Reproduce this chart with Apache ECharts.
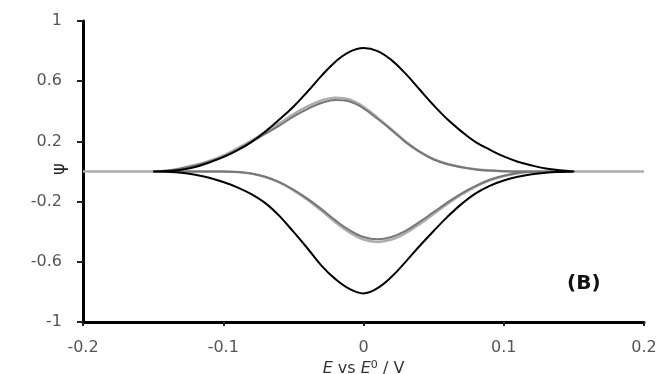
<!DOCTYPE html>
<html>
<head>
<meta charset="utf-8">
<script src="https://cdn.jsdelivr.net/npm/echarts@6/dist/echarts.min.js"></script>
<style>html,body{margin:0;padding:0;background:#fff}#c{width:664px;height:374px}</style>
</head>
<body>
<div id="c"></div>
<script>
// Potential grid (V) for the scans
const E_fwd = [-0.15,-0.14,-0.13,-0.12,-0.11,-0.10,-0.09,-0.08,-0.07,-0.06,-0.05,-0.04,-0.03,-0.02,-0.01,0,0.01,0.02,0.03,0.04,0.05,0.06,0.07,0.08,0.09,0.10,0.11,0.12,0.13,0.14,0.15];
const E_rev = E_fwd.slice().reverse();

// Black voltammogram
const black_fwd = [0,0.003,0.012,0.03,0.06,0.095,0.14,0.195,0.265,0.345,0.43,0.53,0.635,0.73,0.795,0.82,0.80,0.74,0.65,0.545,0.44,0.345,0.265,0.195,0.145,0.10,0.065,0.04,0.02,0.008,0];
const black_rev = [0,-0.003,-0.008,-0.018,-0.035,-0.06,-0.095,-0.145,-0.215,-0.30,-0.395,-0.495,-0.60,-0.70,-0.775,-0.81,-0.78,-0.715,-0.625,-0.51,-0.40,-0.295,-0.21,-0.15,-0.105,-0.07,-0.042,-0.022,-0.008,-0.002,0];

// Dark grey voltammogram
const dgrey_fwd = [0,0.005,0.02,0.04,0.065,0.10,0.145,0.195,0.25,0.305,0.365,0.415,0.455,0.475,0.465,0.42,0.35,0.275,0.195,0.13,0.08,0.048,0.028,0.014,0.006,0.002,0,0,0,0,0];
const dgrey_rev = [0,0,0,-0.002,-0.01,-0.028,-0.055,-0.095,-0.145,-0.205,-0.27,-0.335,-0.395,-0.435,-0.45,-0.435,-0.39,-0.325,-0.25,-0.18,-0.12,-0.07,-0.035,-0.013,-0.003,0,0,0,0,0,0];

// Light grey voltammogram (full range -0.2 .. 0.2)
const E_lfwd = [-0.20,-0.19,-0.18,-0.17,-0.16,-0.15,-0.14,-0.13,-0.12,-0.11,-0.10,-0.09,-0.08,-0.07,-0.06,-0.05,-0.04,-0.03,-0.02,-0.01,0,0.01,0.02,0.03,0.04,0.05,0.06,0.07,0.08,0.09,0.10,0.11,0.12,0.13,0.14,0.15,0.16,0.17,0.18,0.19,0.20];
const E_lrev = E_lfwd.slice().reverse();
const lgrey_fwd = [0,0,0,0,0,0,0.006,0.022,0.043,0.07,0.106,0.153,0.205,0.262,0.32,0.38,0.432,0.472,0.49,0.478,0.43,0.358,0.28,0.2,0.133,0.082,0.05,0.029,0.015,0.006,0.002,0,0,0,0,0,0,0,0,0,0];
const lgrey_rev = [0,0,0,0,0,0,0,0,-0.002,-0.011,-0.03,-0.058,-0.1,-0.152,-0.214,-0.282,-0.35,-0.41,-0.452,-0.468,-0.452,-0.405,-0.337,-0.26,-0.187,-0.125,-0.073,-0.037,-0.014,-0.003,0,0,0,0,0,0,0,0,0,0,0];

// Axis ticks
const xTicks = [-0.2,-0.1,0,0.1,0.2];
const yTicks = [-1,-0.6,-0.2,0.2,0.6,1];

function pairs(xs, ys){ return xs.map((x,i)=>[x, ys[i]]); }
function loop(xf, yf, xr, yr){ return pairs(xf, yf).concat(pairs(xr, yr)); }

const chart = echarts.init(document.getElementById('c'), null, {renderer:'canvas'});
const font = 'DejaVu Sans, Verdana, sans-serif';
chart.setOption({
  animation:false,
  backgroundColor:'#fff',
  grid:{left:83, right:20, top:21, bottom:52, outerBoundsMode:'none', containLabel:false},
  xAxis:{
    type:'value', min:-0.2, max:0.2, interval:0.1,
    axisLine:{onZero:false, lineStyle:{color:'#000', width:3}},
    axisTick:{show:true, length:4, lineStyle:{color:'#222', width:2}},
    axisLabel:{color:'#555', fontFamily:font, fontSize:16, margin:18,
      formatter:v=>{const r=Math.round(v*10)/10; return String(r);}},
    splitLine:{show:false},
    name:'{i|E} vs {i|E}{s|0} / V', nameLocation:'middle', nameGap:38, nameMoveOverlap:false,
    nameTextStyle:{color:'#333', fontFamily:font, fontSize:16,
      rich:{i:{fontStyle:'italic', fontFamily:font, fontSize:16, color:'#333'},
            s:{fontSize:11, fontFamily:font, color:'#333', verticalAlign:'top', padding:[0,0,6,0]}}}
  },
  yAxis:{
    type:'value', min:-1, max:1,
    axisLine:{show:true, onZero:false, lineStyle:{color:'#000', width:3}},
    axisTick:{show:true, length:6, customValues:yTicks, lineStyle:{color:'#222', width:2}},
    axisLabel:{color:'#555', fontFamily:font, fontSize:16, margin:21, customValues:yTicks,
      formatter:v=>{const r=Math.round(v*10)/10; return String(r);}},
    splitLine:{show:false}
  },
  graphic:[
    {type:'text', x:59, y:169, rotation:Math.PI/2, style:{text:'ψ', font:'18px '+font, fill:'#222', align:'center', verticalAlign:'middle'}},
    {type:'text', left:567, top:274, style:{text:'(B)', font:'bold 20px '+font, fill:'#111'}}
  ],
  series:[
    {type:'line', data:loop(E_lfwd, lgrey_fwd, E_lrev, lgrey_rev), showSymbol:false, smooth:0.4,
     lineStyle:{color:'#adadad', width:2.5}, z:2},
    {type:'line', data:loop(E_fwd, dgrey_fwd, E_rev, dgrey_rev), showSymbol:false, smooth:0.4,
     lineStyle:{color:'#777', width:2}, z:3},
    {type:'line', data:loop(E_fwd, black_fwd, E_rev, black_rev), showSymbol:false, smooth:0.4,
     lineStyle:{color:'#000', width:2}, z:4}
  ]
});
</script>
</body>
</html>
